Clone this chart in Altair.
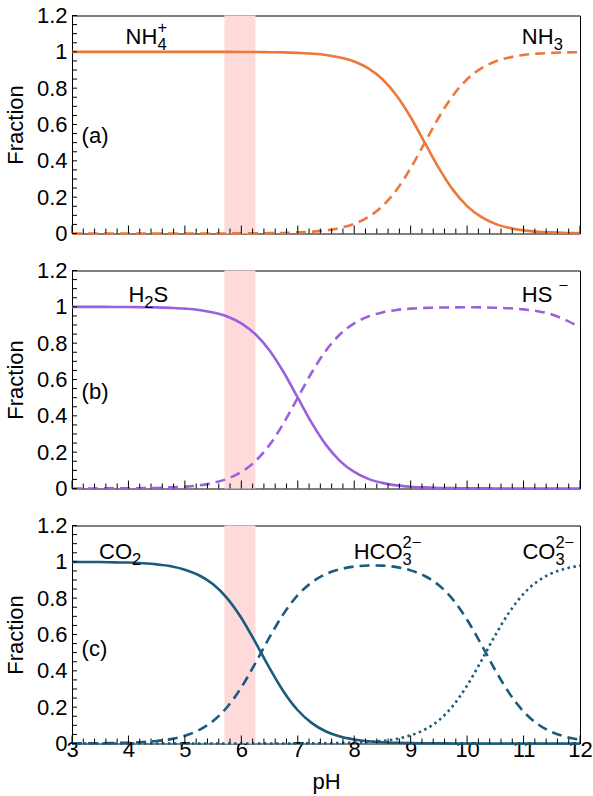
import altair as alt
import pandas as pd

# pH sample positions shared by every curve
PH = [3.00, 3.25, 3.50, 3.75, 4.00, 4.25, 4.50, 4.75, 5.00, 5.25, 5.50, 5.75,
      6.00, 6.25, 6.50, 6.75, 7.00, 7.25, 7.50, 7.75, 8.00, 8.25, 8.50, 8.75,
      9.00, 9.25, 9.50, 9.75, 10.00, 10.25, 10.50, 10.75, 11.00, 11.25, 11.50,
      11.75, 12.00]

# (a) ammonia
NH4 = [1.000, 1.000, 1.000, 1.000, 1.000, 1.000, 1.000, 1.000, 1.000, 1.000,
       1.000, 1.000, 0.999, 0.999, 0.998, 0.997, 0.994, 0.990, 0.983, 0.969,
       0.947, 0.909, 0.849, 0.760, 0.640, 0.500, 0.360, 0.240, 0.151, 0.091,
       0.053, 0.031, 0.017, 0.010, 0.006, 0.003, 0.002]
NH3 = [0.000, 0.000, 0.000, 0.000, 0.000, 0.000, 0.000, 0.000, 0.000, 0.000,
       0.000, 0.000, 0.001, 0.001, 0.002, 0.003, 0.006, 0.010, 0.017, 0.031,
       0.053, 0.091, 0.151, 0.240, 0.360, 0.500, 0.640, 0.760, 0.849, 0.909,
       0.947, 0.969, 0.983, 0.990, 0.994, 0.997, 0.998]

# (b) hydrogen sulfide
H2S = [1.000, 1.000, 1.000, 0.999, 0.999, 0.998, 0.997, 0.994, 0.990, 0.983,
       0.969, 0.947, 0.909, 0.849, 0.760, 0.640, 0.500, 0.360, 0.240, 0.151,
       0.091, 0.053, 0.031, 0.017, 0.010, 0.006, 0.003, 0.002, 0.001, 0.001,
       0.000, 0.000, 0.000, 0.000, 0.000, 0.000, 0.000]
HS = [0.000, 0.000, 0.000, 0.001, 0.001, 0.002, 0.003, 0.006, 0.010, 0.017,
      0.031, 0.053, 0.091, 0.151, 0.240, 0.360, 0.500, 0.640, 0.760, 0.849,
      0.909, 0.947, 0.969, 0.983, 0.990, 0.994, 0.996, 0.997, 0.998, 0.997,
      0.995, 0.992, 0.986, 0.976, 0.958, 0.927, 0.888]

# (c) carbonate system
CO2 = [1.000, 0.999, 0.999, 0.997, 0.996, 0.992, 0.986, 0.976, 0.957, 0.926,
       0.876, 0.799, 0.691, 0.557, 0.415, 0.285, 0.183, 0.112, 0.066, 0.038,
       0.022, 0.012, 0.007, 0.004, 0.002, 0.001, 0.001, 0.000, 0.000, 0.000,
       0.000, 0.000, 0.000, 0.000, 0.000, 0.000, 0.000]
HCO3 = [0.000, 0.001, 0.001, 0.003, 0.004, 0.008, 0.014, 0.024, 0.043, 0.074,
        0.124, 0.201, 0.309, 0.443, 0.585, 0.715, 0.817, 0.887, 0.933, 0.959,
        0.974, 0.980, 0.979, 0.971, 0.953, 0.922, 0.871, 0.792, 0.681, 0.546,
        0.403, 0.276, 0.176, 0.107, 0.063, 0.037, 0.021]
CO3 = [0.000, 0.000, 0.000, 0.000, 0.000, 0.000, 0.000, 0.000, 0.000, 0.000,
       0.000, 0.000, 0.000, 0.000, 0.000, 0.000, 0.000, 0.001, 0.001, 0.003,
       0.005, 0.008, 0.014, 0.025, 0.045, 0.077, 0.128, 0.208, 0.319, 0.454,
       0.597, 0.724, 0.824, 0.893, 0.937, 0.963, 0.979]

# shaded pH window
BAND = [5.70, 6.25]

# axis ticks and labels
X_LABELS = [3, 4, 5, 6, 7, 8, 9, 10, 11, 12]
X_MINOR = [round(3 + 0.2 * i, 1) for i in range(46) if i % 5 != 0]
Y_LABELS = [0, 0.2, 0.4, 0.6, 0.8, 1, 1.2]
Y_MINOR = [round(0.05 * i, 2) for i in range(25)]

ORANGE = "#EC783C"
PURPLE = "#9B60DC"
TEAL = "#1B5B7E"
PINK = "#FFDADA"

FONT = "Liberation Sans"
FS = 22
SS = 16.5
W, H = 508, 218

XS = alt.Scale(domain=[3, 12], nice=False, zero=False)
YS = alt.Scale(domain=[0, 1.2], nice=False, zero=False)

# Arial advance widths (em) for the glyphs used in the species names
ADV = {"N": 0.722, "H": 0.722, "C": 0.722, "O": 0.778, "S": 0.667, " ": 0.278,
       "2": 0.556, "3": 0.556, "4": 0.556, "+": 0.584, "\u2212": 0.584}


def text_width(s, size):
    return sum(ADV.get(ch, 0.556) for ch in s) * size


def y_axis():
    return alt.Axis(values=Y_LABELS, format="~g", ticks=False, domain=False,
                    grid=False, labelFlush=False, labelFont=FONT,
                    labelFontSize=FS, labelColor="black", labelPadding=5,
                    title="Fraction", titleFont=FONT, titleFontSize=FS,
                    titleFontWeight="normal", titleColor="black",
                    titlePadding=9)


def x_axis(bottom):
    if not bottom:
        return None
    return alt.Axis(values=X_LABELS, format="d", ticks=False, domain=False,
                    grid=False, labelFlush=False, labelFont=FONT,
                    labelFontSize=FS, labelColor="black", labelPadding=-4,
                    title="pH", titleFont=FONT, titleFontSize=FS,
                    titleFontWeight="normal", titleColor="black",
                    titlePadding=11)


def species_label(x, y, parts, xa, ya):
    """Chemical name built from main / subscript / superscript pieces."""
    layers = []
    cursor = 0.0
    sub_start = None
    for s, kind in parts:
        if kind == "main":
            dx, dy, size = cursor, 0, FS
            cursor += text_width(s, FS)
            sub_start = None
        elif kind == "sub":
            dx, dy, size = cursor, 6, SS
            sub_start = cursor
            cursor += text_width(s, SS)
        else:
            start = sub_start if sub_start is not None else cursor
            dx, dy, size = start, -11, SS
            cursor = max(cursor, start + text_width(s, SS))
        df = pd.DataFrame({"x": [x], "y": [y], "s": [s]})
        layers.append(
            alt.Chart(df).mark_text(align="left", baseline="alphabetic",
                                    font=FONT, fontSize=size, dx=dx, dy=dy,
                                    color="black")
            .encode(x=alt.X("x:Q", scale=XS, axis=xa),
                    y=alt.Y("y:Q", scale=YS, axis=ya),
                    text="s:N"))
    return layers


def panel(series, color, names, tag, tag_y, name_y, bottom):
    xa = x_axis(bottom)
    ya = y_axis()
    layers = []

    band = pd.DataFrame({"lo": [BAND[0]], "hi": [BAND[1]]})
    layers.append(
        alt.Chart(band).mark_rect(color=PINK)
        .encode(x=alt.X("lo:Q", scale=XS, axis=xa), x2="hi:Q",
                y=alt.value(0), y2=alt.value(H)))

    for values, dash in series:
        df = pd.DataFrame({"pH": PH, "f": values})
        props = dict(color=color, strokeWidth=2.6, interpolate="monotone")
        if dash:
            props["strokeDash"] = dash
        layers.append(
            alt.Chart(df).mark_line(**props)
            .encode(x=alt.X("pH:Q", scale=XS, axis=xa),
                    y=alt.Y("f:Q", scale=YS, axis=ya)))

    # inward tick marks
    for vals, length in ((X_LABELS, 8), (X_MINOR, 5)):
        layers.append(
            alt.Chart(pd.DataFrame({"t": vals})).mark_rule(color="black", strokeWidth=1)
            .encode(x=alt.X("t:Q", scale=XS, axis=xa),
                    y=alt.value(H), y2=alt.value(H - length)))
    layers.append(
        alt.Chart(pd.DataFrame({"t": Y_MINOR})).mark_rule(color="black", strokeWidth=1)
        .encode(y=alt.Y("t:Q", scale=YS, axis=ya),
                x=alt.value(0), x2=alt.value(5)))

    for x, parts in names:
        layers += species_label(x, name_y, parts, xa, ya)

    layers.append(
        alt.Chart(pd.DataFrame({"x": [3.17], "y": [tag_y], "s": [tag]}))
        .mark_text(align="left", baseline="alphabetic", font=FONT,
                   fontSize=FS, color="black")
        .encode(x=alt.X("x:Q", scale=XS, axis=xa),
                y=alt.Y("y:Q", scale=YS, axis=ya), text="s:N"))

    return alt.layer(*layers).properties(width=W, height=H)


DASH = [10, 6]
DOT = [2.5, 3.5]
MINUS = "\u2212"

top = panel([(NH4, None), (NH3, DASH)], ORANGE,
            [(3.95, [("NH", "main"), ("4", "sub"), ("+", "sup")]),
             (10.97, [("NH", "main"), ("3", "sub")])],
            "(a)", 0.50, 1.045, False)
mid = panel([(H2S, None), (HS, DASH)], PURPLE,
            [(4.0, [("H", "main"), ("2", "sub"), ("S", "main")]),
             (10.97, [("HS ", "main"), (MINUS, "sup")])],
            "(b)", 0.49, 1.026, False)
bot = panel([(CO2, None), (HCO3, DASH), (CO3, DOT)], TEAL,
            [(3.48, [("CO", "main"), ("2", "sub")]),
             (7.99, [("HCO", "main"), ("3", "sub"), ("2" + MINUS, "sup")]),
             (10.98, [("CO", "main"), ("3", "sub"), ("2" + MINUS, "sup")])],
            "(c)", 0.48, 1.016, True)

chart = (
    alt.vconcat(top, mid, bot, spacing=37, bounds="flush")
    .properties(padding={"top": 3.5, "left": 3, "right": 0, "bottom": 0},
                background="white")
    .configure_view(stroke="black", strokeWidth=1)
)

chart.save("out.html", embed_options={"renderer": "svg", "actions": False})
